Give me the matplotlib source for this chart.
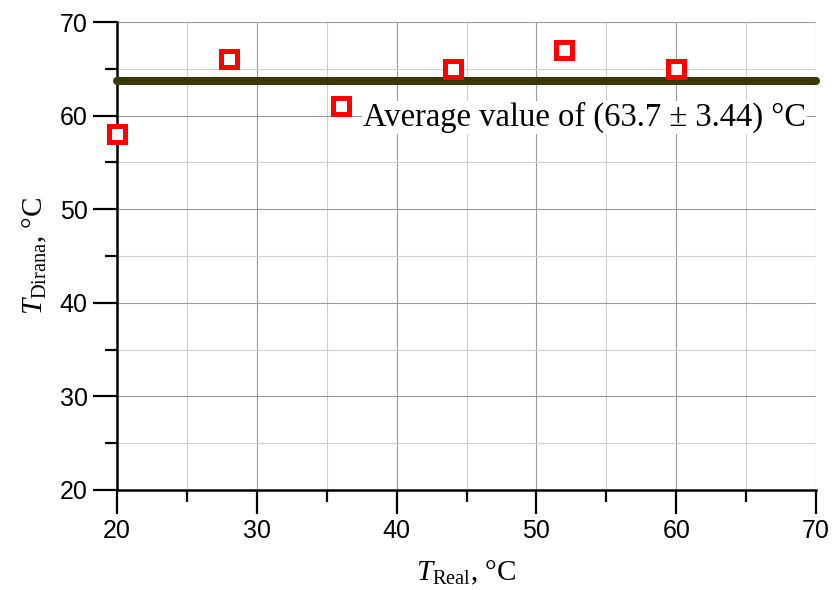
import numpy as np
import matplotlib.pyplot as plt
from matplotlib.ticker import MultipleLocator

plt.rcParams['mathtext.fontset'] = 'custom'
plt.rcParams['mathtext.rm'] = 'Liberation Serif'
plt.rcParams['mathtext.it'] = 'Liberation Serif:italic'

# measured temperatures
t_real = [20, 28, 36, 44, 52, 60]
t_dirana = [58, 66, 61, 65, 67, 65]
t_avg = 63.7
t_std = 3.44

fig = plt.figure(figsize=(8.32, 5.9), dpi=100)
ax = fig.add_axes([0.1406, 0.1695, 0.8402, 0.7932])

ax.set_xlim(20, 70)
ax.set_ylim(20, 70)
ax.xaxis.set_major_locator(MultipleLocator(10))
ax.xaxis.set_minor_locator(MultipleLocator(5))
ax.yaxis.set_major_locator(MultipleLocator(10))
ax.yaxis.set_minor_locator(MultipleLocator(5))

ax.grid(which='major', color='#9a9a9a', lw=0.8, zorder=0)
ax.grid(which='minor', color='#d0d0d0', lw=0.8, zorder=0)
ax.set_axisbelow(True)

for s in ['top', 'right']:
    ax.spines[s].set_visible(False)
for s in ['left', 'bottom']:
    ax.spines[s].set_linewidth(1.8)

ax.tick_params(which='major', direction='out', length=17, width=1.6,
               labelsize=18, pad=4)
ax.tick_params(which='minor', direction='out', length=8.5, width=1.6)
for lab in ax.get_xticklabels() + ax.get_yticklabels():
    lab.set_family('Liberation Sans')

# average line
ax.plot([20, 70], [t_avg, t_avg], color='#38380a', lw=5.8,
        solid_capstyle='round', zorder=3, clip_on=False)

ax.text(37.6, 59.8, 'Average value of (%.1f ± %.2f) °C' % (t_avg, t_std),
        family='Liberation Serif', fontsize=23.5, ha='left', va='center',
        bbox=dict(facecolor='white', edgecolor='none', pad=1), zorder=2)

ax.plot(t_real, t_dirana, ls='none', marker='s', ms=12, mew=3.6,
        mec='#ff0000', mfc='white', zorder=5, clip_on=False)

ax.set_xlabel(r'$\mathit{T}_{\mathrm{Real}}$, °C', family='Liberation Serif',
              fontsize=21, labelpad=11)
ax.set_ylabel(r'$\mathit{T}_{\mathrm{Dirana}}$, °C', family='Liberation Serif',
              fontsize=21, labelpad=8)

fig.savefig('out.png', dpi=100)
